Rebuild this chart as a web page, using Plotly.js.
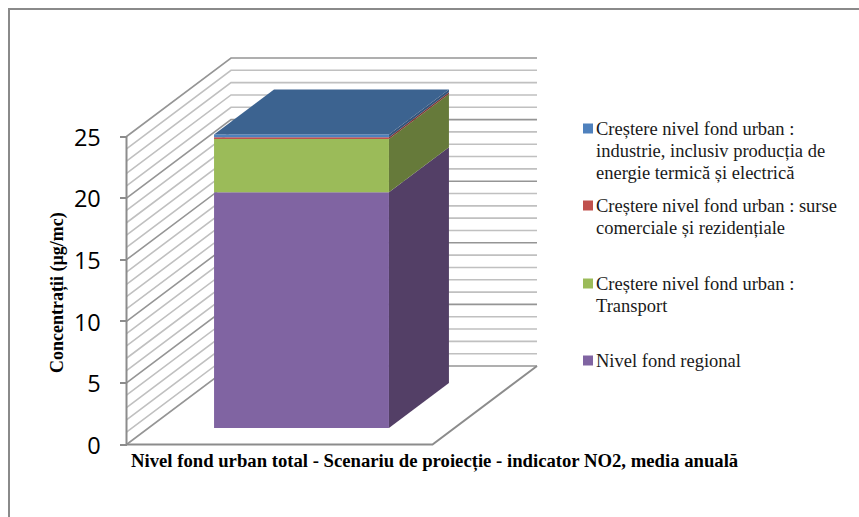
<!DOCTYPE html>
<html><head><meta charset="utf-8">
<script src="https://cdn.plot.ly/plotly-3.0.1.min.js"></script>
<style>html,body{margin:0;padding:0;background:#fff}#c{width:859px;height:517px}</style>
</head><body><div id="c"></div>
<script>
// ---- data ----
const category = "Nivel fond urban total - Scenariu de proiecție - indicator NO2, media anuală";
const yTitle = "Concentrații (µg/mc)";
const tickValues = [0, 5, 10, 15, 20, 25];
const gridMinor = [1,2,3,4,6,7,8,9,11,12,13,14,16,17,18,19,21,22,23,24];
const gridMajor = [0,5,10,15,20,25];
const seriesNames = [
  "Nivel fond regional",
  "Creștere nivel fond urban : Transport",
  "Creștere nivel fond urban : surse comerciale și rezidențiale",
  "Creștere nivel fond urban : industrie, inclusiv producția de energie termică și electrică"
];
const seriesValues = [19.13, 4.33, 0.14, 0.22];
const frontColors = ["#8064A2", "#9BBB59", "#C0504D", "#4F81BD"];
const sideColors  = ["#533F66", "#667A3A", "#7E3533", "#34547C"];
const topColor = "#3C6390";
const legendLines = [
  ["Nivel fond regional"],
  ["Creștere nivel fond urban :", "Transport"],
  ["Creștere nivel fond urban : surse", "comerciale și rezidențiale"],
  ["Creștere nivel fond urban :", "industrie, inclusiv producția de", "energie termică și electrică"]
];

// ---- layout constants ----
const W = 859, H = 517;
const X0 = 126.5, UX = 306, Y0 = 444.5, UY = 12.32;
const DX = 104.5 / UX, DY = 78.5 / UY;          // oblique depth projection
const barU = [0.2144, 0.786], barW = [0.21, 0.784];
const legendTop = [361, 284, 206, 129];          // px of first text line
const legendStep = 21.9;
const P = (u, v, w) => [u + w * DX, v + w * DY];
const xp = px => px / W, yp = py => 1 - py / H;

function poly(pts, color, name) {
  const p = pts.map(a => P(a[0], a[1], a[2]));
  return {type:"scatter", mode:"lines", fill:"toself", fillcolor:color, name:name,
    x:p.map(a=>a[0]), y:p.map(a=>a[1]), line:{width:0, color:color}, hoverinfo:"name"};
}
function gridTrace(vals, color, width, name) {
  const x=[], y=[];
  vals.forEach(v => {
    [[0,v,0],[0,v,1],[1,v,1]].forEach(a => { const p=P(...a); x.push(p[0]); y.push(p[1]); });
    x.push(null); y.push(null);
  });
  return {type:"scatter", mode:"lines", x, y, name, line:{color, width}, hoverinfo:"skip"};
}
const traces = [];
traces.push(gridTrace(gridMinor, "#C0C0C0", 1.6, "grid"));
traces.push(gridTrace(gridMajor, "#959595", 1.6, "grid major"));
// floor outline
const floorPts = [[0,0,0],[1,0,0],[1,0,1]].map(a=>P(...a));
traces.push({type:"scatter", mode:"lines", x:floorPts.map(a=>a[0]), y:floorPts.map(a=>a[1]),
  line:{color:"#8C8C8C", width:2}, hoverinfo:"skip", name:"floor"});
// vertical axis line
traces.push({type:"scatter", mode:"lines", x:[0,0], y:[0,25], line:{color:"#8C8C8C", width:2}, hoverinfo:"skip", name:"axis"});

// stacked bar
let base = 0;
seriesValues.forEach((val, i) => {
  const top = base + val, [u0,u1] = barU, [w0,w1] = barW;
  traces.push(poly([[u1,base,w0],[u1,base,w1],[u1,top,w1],[u1,top,w0]], sideColors[i], seriesNames[i]+" (lateral)"));
  traces.push(poly([[u0,base,w0],[u1,base,w0],[u1,top,w0],[u0,top,w0]], frontColors[i], seriesNames[i]));
  base = top;
});
traces.push(poly([[barU[0],base,barW[0]],[barU[1],base,barW[0]],[barU[1],base,barW[1]],[barU[0],base,barW[1]]], topColor, "top"));

const annotations = [], shapes = [];
const serif = "'Liberation Serif','Times New Roman',serif";
annotations.push({xref:"paper",yref:"paper",x:xp(435),y:yp(461),text:"<b>"+category+"</b>",showarrow:false,
  xanchor:"center",yanchor:"middle",font:{family:serif,size:18.7,color:"#000"}});
annotations.push({xref:"paper",yref:"paper",x:xp(57),y:yp(293),text:"<b>"+yTitle+"</b>",showarrow:false,textangle:-90,
  xanchor:"center",yanchor:"middle",font:{family:serif,size:18,color:"#000"}});
legendLines.forEach((lines,i) => {
  lines.forEach((t,k) => annotations.push({xref:"paper",yref:"paper",x:xp(593.5),y:yp(legendTop[i]+k*legendStep),text:t,showarrow:false,
    xanchor:"left",yanchor:"middle",font:{family:serif,size:18.5,color:"#1a1a1a"}}));
  shapes.push({type:"rect",xref:"paper",yref:"paper",x0:xp(583),x1:xp(593),y0:yp(legendTop[i]-5.5),y1:yp(legendTop[i]+4.5),
    fillcolor:frontColors[i],line:{width:0}});
});
// chart frame
shapes.push({type:"path",xref:"paper",yref:"paper",
  path:`M ${xp(9)} ${yp(517)} L ${xp(9)} ${yp(9)} L ${xp(859)} ${yp(9)}`,line:{color:"#8A8A8A",width:2}});

const layout = {
  width:W, height:H, margin:{l:0,r:0,t:0,b:0}, paper_bgcolor:"#fff", plot_bgcolor:"#fff", showlegend:false,
  xaxis:{range:[-X0/UX,(W-X0)/UX], visible:false, fixedrange:true},
  yaxis:{range:[-(H-Y0)/UY, Y0/UY], anchor:"free", position:X0/W, tickmode:"array", tickvals:tickValues,
    ticktext:tickValues.map(String), ticks:"outside", ticklen:7, tickwidth:2, tickcolor:"#8C8C8C",
    ticklabelstandoff:14, ticklabelshift:1, showgrid:false, zeroline:false, showline:false, fixedrange:true,
    tickfont:{family:"'Open Sans','Noto Sans',sans-serif",size:23.5,color:"#000"}},
  annotations, shapes
};
Plotly.newPlot("c", traces, layout, {staticPlot:true, displayModeBar:false});
</script></body></html>
